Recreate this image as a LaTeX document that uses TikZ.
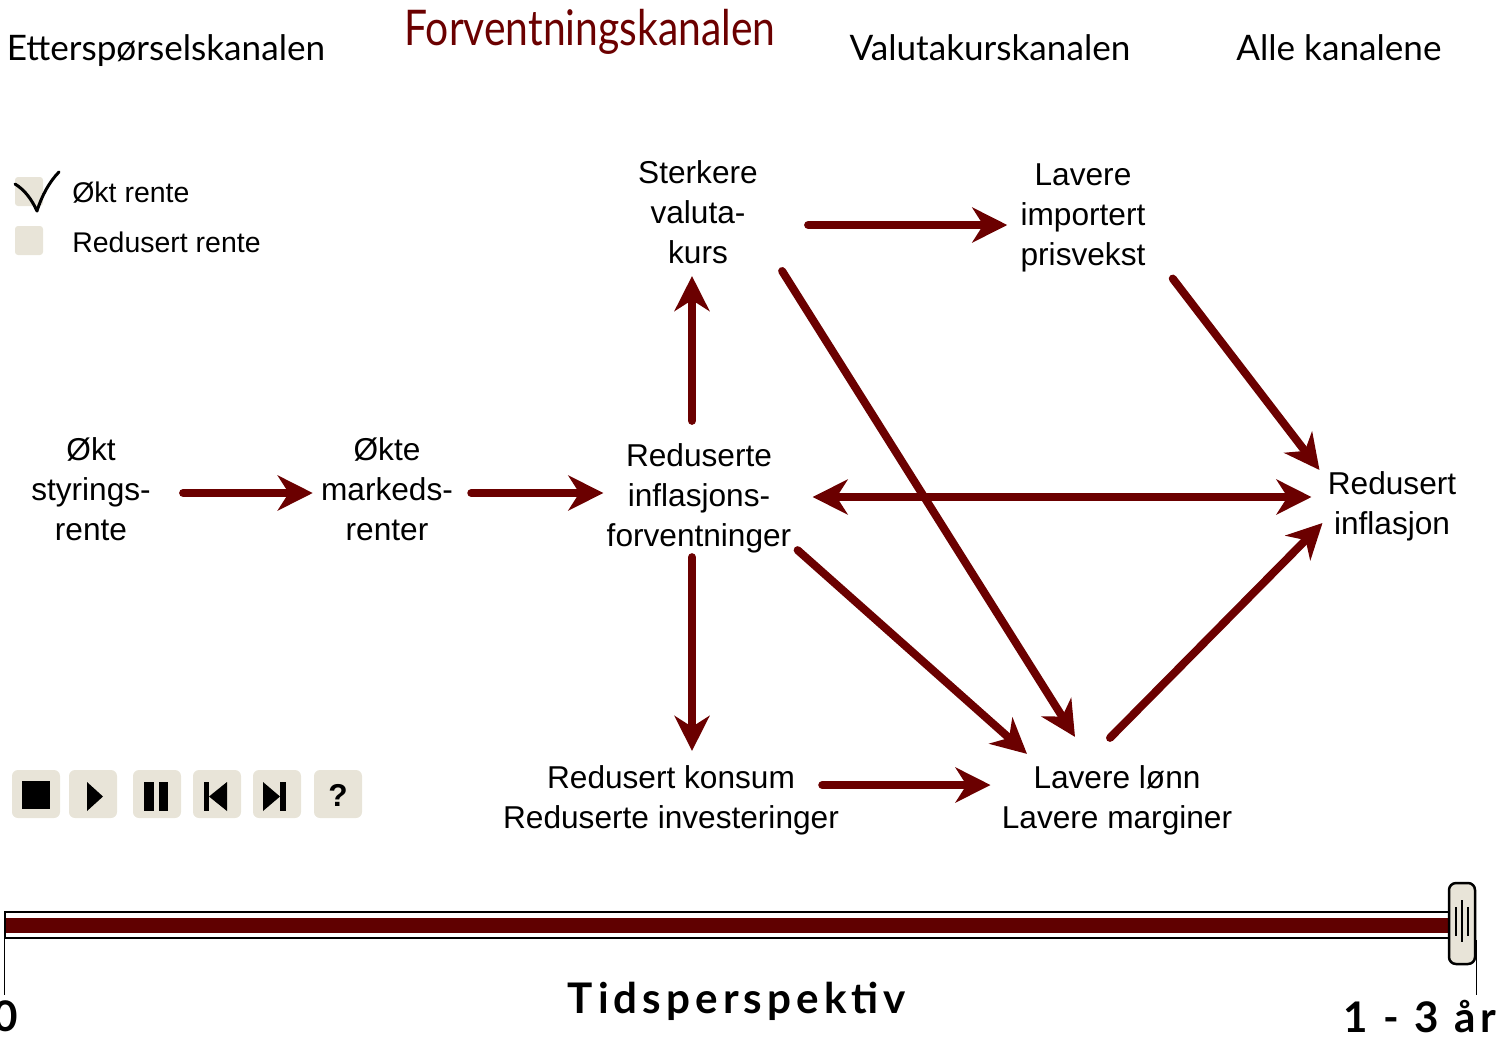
\documentclass[tikz,border=0pt]{standalone}
\usepackage{fontspec}
\setmainfont{Liberation Sans}
\newfontfamily\gill{Lato}
\newfontfamily\gillsmal{Lato}[FakeStretch=0.83]
\newfontfamily\gillsperr{Lato}[LetterSpace=12]
\usetikzlibrary{arrows.meta}

\definecolor{pilrod}{RGB}{107,0,0}
\definecolor{linjerod}{RGB}{96,0,0}
\definecolor{knapp}{RGB}{232,228,216}

\begin{document}
\begin{tikzpicture}[x=0.02cm,y=-0.02cm,
  txt/.style={font=\fontsize{18}{22.8}\selectfont,align=center,inner sep=0pt},
  overskrift/.style={font=\gill\fontsize{20}{24}\selectfont,inner sep=0pt,anchor=base},
  pil/.style={pilrod,line width=0.16cm,line cap=round,
    -{Stealth[length=0.7cm,width=0.7cm,inset=0.22cm]}},
  dobbelpil/.style={pil,{Stealth[length=0.7cm,width=0.7cm,inset=0.22cm]}-{Stealth[length=0.7cm,width=0.7cm,inset=0.22cm]}},
  knappfelt/.style={fill=knapp,rounded corners=0.12cm}]
\useasboundingbox (0,0) rectangle (1501,1036);

% Kanaler
\node[overskrift] (etter) at (166,60) {Etterspørselskanalen};
\node[overskrift,anchor=center,font=\gillsmal\fontsize{28}{32}\selectfont,text=pilrod] (forv) at (590,32) {Forventningskanalen};
\node[overskrift] (valutak) at (990,60) {Valutakurskanalen};
\node[overskrift] (alle) at (1339,60) {Alle kanalene};

% Avkrysning
\fill[knapp,rounded corners=0.06cm] (15,177) rectangle (43,206);
\fill[knapp,rounded corners=0.06cm] (15,226) rectangle (43,255);
\draw[line width=0.06cm,line cap=round,line join=round] (15,184) .. controls (25,190) and (32,200) .. (37,211) .. controls (42,195) and (50,181) .. (59,172);
\node[anchor=west,font=\fontsize{16.2}{19}\selectfont,inner sep=0pt] (okt) at (72,193) {Økt rente};
\node[anchor=west,font=\fontsize{16.2}{19}\selectfont,inner sep=0pt] (redr) at (72,242) {Redusert rente};

% Boksene
\node[txt] (styr) at (91,489) {Økt\\styrings-\\rente};
\node[txt] (marked) at (387,489) {Økte\\markeds-\\renter};
\node[txt] (infl) at (699,498) {Reduserte\\inflasjons-\\forventninger};
\node[txt] (valuta) at (698,212) {Sterkere\\valuta-\\kurs};
\node[txt] (import) at (1083,218) {Lavere\\importert\\prisvekst};
\node[txt] (redinfl) at (1392,506) {Redusert\\inflasjon};
\node[txt] (konsum) at (671,800) {Redusert konsum\\Reduserte investeringer};
\node[txt] (lonn) at (1117,800) {Lavere lønn\\Lavere marginer};

% Piler
\draw[pil] ([shift={(32,4)}]styr.east) -- ([shift={(-8,4)}]marked.west);
\draw[pil] ([shift={(18,4)}]marked.east) -- ([shift={(-3,-5)}]infl.west);
\draw[pil] ([shift={(-7,-22)}]infl.north) -- ([shift={(-6,12)}]valuta.south);
\draw[pil] ([shift={(50,13)}]valuta.east) -- ([shift={(-13,7)}]import.west);
\draw[pil] ([shift={(27,6)}]import.south east) -- ([shift={(-8,-36)}]redinfl.west);
\draw[pil] ([shift={(24,7)}]valuta.south east) -- ([shift={(-42,-28)}]lonn.north);
\draw[dobbelpil] ([shift={(21,-1)}]infl.east) -- ([shift={(-16,-9)}]redinfl.west);
\draw[pil] ([shift={(6,-3)}]infl.south east) -- ([shift={(-90,-11)}]lonn.north);
\draw[pil] ([shift={(-7,4)}]infl.south) -- ([shift={(21,-14)}]konsum.north);
\draw[pil] ([shift={(-17,-15)}]konsum.east) -- ([shift={(-11,-15)}]lonn.west);
\draw[pil] ([shift={(-7,-27)}]lonn.north) -- ([shift={(-5,17)}]redinfl.west);

% Knapper
\foreach \x in {36,93,157,217,277,338}
  \fill[knappfelt] (\x-24,770) rectangle (\x+24,818);
\fill (22,781) rectangle (50,809);
\fill (87,782) -- (87,811) -- (103,796.5) -- cycle;
\fill (144,782) rectangle (154,811);
\fill (159,782) rectangle (168,811);
\fill (204,782) rectangle (209,811);
\fill (227,782) -- (227,811) -- (209,796.5) -- cycle;
\fill (263,782) -- (263,811) -- (280,796.5) -- cycle;
\fill (280,782) rectangle (286,811);
\node[font=\bfseries\fontsize{18}{20}\selectfont,inner sep=0pt] (hjelp) at (338,795) {?};

% Tidslinje
\draw[line width=0.04cm,fill=white] (5,912) rectangle (1452,938);
\fill[linjerod] (6,918) rectangle (1450,933);
\draw[line width=0.02cm] (4,912) -- (4,995);
\draw[line width=0.02cm] (1476,940) -- (1476,995);
\draw[line width=0.05cm,fill=knapp,rounded corners=0.14cm] (1449,883) rectangle (1475,964);
\foreach \x/\a/\b in {1456/907/936,1462/900/942,1468/907/936}
  \draw[line width=0.04cm] (\x,\a) -- (\x,\b);
\node[font=\gill\bfseries\fontsize{24}{28}\selectfont,inner sep=0pt] (null) at (6,1016) {0};
\node[font=\gillsperr\bfseries\fontsize{24}{28}\selectfont,inner sep=0pt] (tid) at (737,1001) {Tidsperspektiv};
\node[font=\gillsperr\bfseries\fontsize{24}{28}\selectfont,inner sep=0pt,anchor=east] (aar) at (1497,1017) {1 - 3 år};
\end{tikzpicture}
\end{document}
